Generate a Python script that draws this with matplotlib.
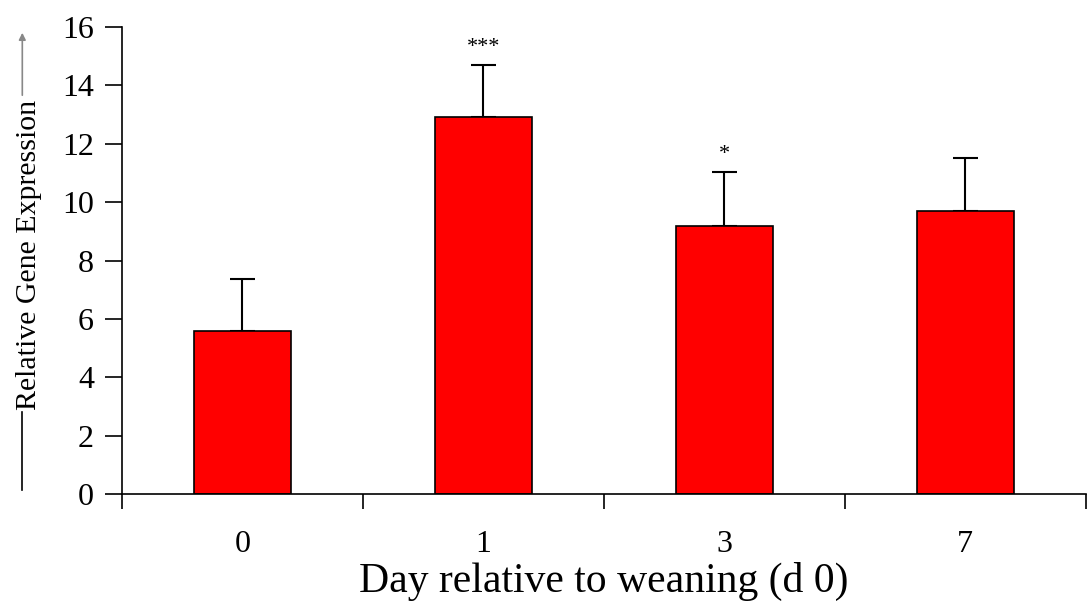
import numpy as np
import matplotlib
matplotlib.use("Agg")
import matplotlib.pyplot as plt

# dados
dias = ["0", "1", "3", "7"]
expressao = [5.58, 12.92, 9.18, 9.70]
erro = [1.79, 1.78, 1.85, 1.81]
signif = ["", "***", "*", ""]

plt.rcParams["font.family"] = ["Liberation Serif", "DejaVu Serif"]

fig = plt.figure(figsize=(10.88, 6.08), dpi=100)
ax = fig.add_axes([0.112, 0.1875, 0.886, 0.768])

x = np.arange(len(dias))
ax.bar(x, expressao, width=0.4, color="#ff0000", edgecolor="black", linewidth=1.2, zorder=2)
ax.errorbar(x, expressao, yerr=[np.zeros(len(erro)), erro], fmt="none",
            ecolor="black", elinewidth=1.5, capsize=9, capthick=1.5, zorder=1)

for xi, yi, e, s in zip(x, expressao, erro, signif):
    if s:
        ax.text(xi, yi + e + 0.6, s, ha="center", va="center", fontsize=16)

ax.set_xlim(-0.5, len(dias) - 0.5)
ax.set_ylim(0, 16)
ax.set_yticks(np.arange(0, 17, 2))
ax.set_xticks(x)
ax.set_xticklabels(dias)
ax.set_xticks(np.arange(-0.5, len(dias), 1), minor=True)
ax.tick_params(axis="x", which="major", length=0, pad=26, labelsize=23)
ax.tick_params(axis="x", which="minor", length=11, width=1.2, direction="out")
ax.tick_params(axis="y", length=12, width=1.2, direction="out", pad=8, labelsize=23)

for lado in ["top", "right"]:
    ax.spines[lado].set_visible(False)
ax.spines["left"].set_linewidth(1.2)
ax.spines["bottom"].set_linewidth(1.2)

ax.set_xlabel("Day relative to weaning (d 0)", fontsize=30, labelpad=2)

# rotulo do eixo y com seta
fig.text(0.027, 1 - 255 / 608, "Relative Gene Expression", rotation=90, ha="center", va="center", fontsize=21.5)
fig.add_artist(plt.Line2D([0.0205, 0.0205], [1 - 490 / 608, 1 - 412 / 608], color="black", lw=1.2))
fig.add_artist(matplotlib.patches.FancyArrowPatch(
    (0.0205, 1 - 98 / 608), (0.0205, 1 - 30 / 608), transform=fig.transFigure,
    arrowstyle="-|>", mutation_scale=10, color="#888888", lw=1.2))

fig.savefig("out.png", dpi=100)
